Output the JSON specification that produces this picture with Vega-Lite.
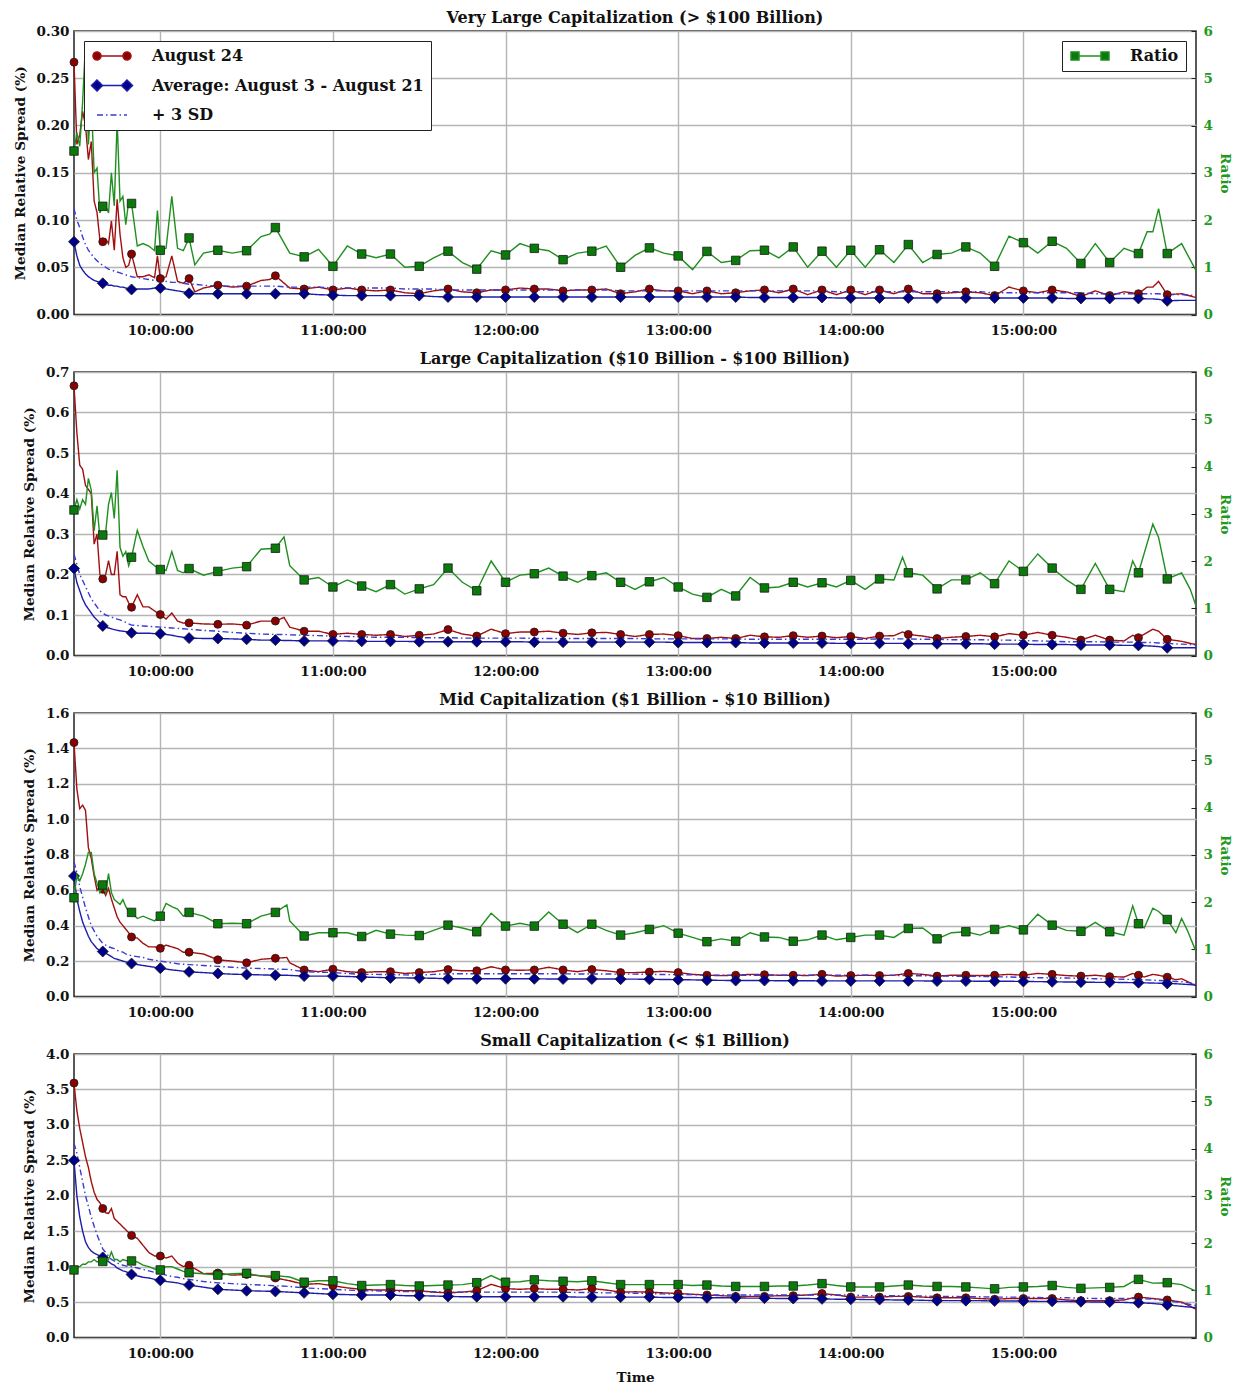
{
"$schema": "https://vega.github.io/schema/vega-lite/v6.json",
"background": "white",
"padding": {"left": 12, "top": 9, "right": 5, "bottom": 0},
"spacing": 12,
"config": {
 "font": "DejaVu Serif",
 "view": {"stroke": "#222", "strokeWidth": 1.5},
 "axis": {"labelFont": "DejaVu Serif", "labelFontWeight": "bold", "labelFontSize": 13.5, "labelColor": "#111", "titleFont": "DejaVu Serif", "titleFontWeight": "bold", "titleFontSize": 13.7, "titleColor": "#111", "gridColor": "#b5b5b5", "gridWidth": 1.4, "domain": false, "tickColor": "#222", "labelOverlap": false, "tickCount": 20},
 "title": {"font": "DejaVu Serif", "fontSize": 16, "fontWeight": "bold", "color": "#111", "frame": "group", "baseline": "alphabetic", "offset": -2},
 "legend": {"labelFont": "DejaVu Serif", "labelFontSize": 16, "labelFontWeight": "bold", "labelColor": "#111", "padding": 7, "strokeColor": "#222", "fillColor": "white", "cornerRadius": 0, "offset": 10, "symbolSize": 210, "symbolStrokeWidth": 1.5, "symbolOffset": 13, "labelOffset": 32, "rowPadding": 12.5, "labelLimit": 0}
},
"datasets": {"d": [
{"p":1,"t":0,"a":0.267,"m":0.077,"s":0.112,"r":3.46},
{"p":1,"t":1,"a":0.18,"m":0.062,"s":0.1,"r":3.85},
{"p":1,"t":2,"a":0.19,"m":0.052,"s":0.092,"r":3.56},
{"p":1,"t":3,"a":0.215,"m":0.047,"s":0.082,"r":4.5},
{"p":1,"t":4,"a":0.2,"m":0.043,"s":0.074,"r":5.75},
{"p":1,"t":5,"a":0.164,"m":0.04,"s":0.068,"r":3.6},
{"p":1,"t":6,"a":0.183,"m":0.038,"s":0.064,"r":4.58},
{"p":1,"t":7,"a":0.12,"m":0.036,"s":0.06,"r":3.0},
{"p":1,"t":8,"a":0.108,"m":0.035,"s":0.057,"r":3.1},
{"p":1,"t":9,"a":0.079,"m":0.034,"s":0.054,"r":2.15},
{"p":1,"t":10,"a":0.077,"m":0.033,"s":0.052,"r":2.29},
{"p":1,"t":11,"a":0.08,"m":0.032,"s":0.05,"r":2.3},
{"p":1,"t":12,"a":0.075,"m":0.031,"s":0.048,"r":2.15},
{"p":1,"t":13,"a":0.099,"m":0.031,"s":0.047,"r":3.0},
{"p":1,"t":14,"a":0.068,"m":0.03,"s":0.046,"r":2.3},
{"p":1,"t":15,"a":0.122,"m":0.03,"s":0.045,"r":4.1},
{"p":1,"t":16,"a":0.085,"m":0.029,"s":0.044,"r":2.4},
{"p":1,"t":17,"a":0.06,"m":0.029,"s":0.043,"r":2.5},
{"p":1,"t":18,"a":0.05,"m":0.028,"s":0.042,"r":1.9},
{"p":1,"t":19,"a":0.052,"m":0.027,"s":0.041,"r":2.4},
{"p":1,"t":20,"a":0.064,"m":0.0265,"s":0.04,"r":2.35},
{"p":1,"t":22,"a":0.04,"m":0.027,"s":0.039,"r":1.45},
{"p":1,"t":24,"a":0.04,"m":0.027,"s":0.038,"r":1.5},
{"p":1,"t":26,"a":0.042,"m":0.027,"s":0.037,"r":1.45},
{"p":1,"t":28,"a":0.039,"m":0.028,"s":0.036,"r":1.35},
{"p":1,"t":29,"a":0.062,"m":0.028,"s":0.036,"r":2.2},
{"p":1,"t":30,"a":0.038,"m":0.028,"s":0.036,"r":1.36},
{"p":1,"t":32,"a":0.04,"m":0.027,"s":0.035,"r":1.4},
{"p":1,"t":34,"a":0.062,"m":0.026,"s":0.034,"r":2.5},
{"p":1,"t":36,"a":0.035,"m":0.025,"s":0.034,"r":1.4},
{"p":1,"t":38,"a":0.033,"m":0.024,"s":0.033,"r":1.35},
{"p":1,"t":40,"a":0.038,"m":0.0225,"s":0.032,"r":1.62},
{"p":1,"t":42,"a":0.024,"m":0.022,"s":0.032,"r":1.05},
{"p":1,"t":45,"a":0.028,"m":0.022,"s":0.031,"r":1.3},
{"p":1,"t":50,"a":0.031,"m":0.022,"s":0.03,"r":1.36},
{"p":1,"t":55,"a":0.029,"m":0.022,"s":0.03,"r":1.3},
{"p":1,"t":60,"a":0.03,"m":0.022,"s":0.03,"r":1.35},
{"p":1,"t":65,"a":0.036,"m":0.022,"s":0.03,"r":1.65},
{"p":1,"t":68,"a":0.037,"m":0.022,"s":0.03,"r":1.7},
{"p":1,"t":70,"a":0.041,"m":0.022,"s":0.03,"r":1.84},
{"p":1,"t":75,"a":0.028,"m":0.022,"s":0.029,"r":1.3},
{"p":1,"t":80,"a":0.027,"m":0.022,"s":0.029,"r":1.22},
{"p":1,"t":85,"a":0.029,"m":0.021,"s":0.029,"r":1.38},
{"p":1,"t":90,"a":0.026,"m":0.0205,"s":0.028,"r":1.02},
{"p":1,"t":95,"a":0.028,"m":0.02,"s":0.028,"r":1.45},
{"p":1,"t":100,"a":0.026,"m":0.02,"s":0.028,"r":1.28},
{"p":1,"t":105,"a":0.025,"m":0.02,"s":0.028,"r":1.2},
{"p":1,"t":110,"a":0.026,"m":0.02,"s":0.028,"r":1.28},
{"p":1,"t":115,"a":0.023,"m":0.02,"s":0.027,"r":1.0},
{"p":1,"t":120,"a":0.022,"m":0.02,"s":0.027,"r":1.02},
{"p":1,"t":125,"a":0.025,"m":0.019,"s":0.027,"r":1.2},
{"p":1,"t":130,"a":0.027,"m":0.0185,"s":0.026,"r":1.34},
{"p":1,"t":135,"a":0.024,"m":0.0185,"s":0.026,"r":1.1},
{"p":1,"t":140,"a":0.023,"m":0.0185,"s":0.026,"r":0.96},
{"p":1,"t":145,"a":0.026,"m":0.0185,"s":0.026,"r":1.35},
{"p":1,"t":150,"a":0.026,"m":0.0185,"s":0.026,"r":1.26},
{"p":1,"t":155,"a":0.028,"m":0.0185,"s":0.026,"r":1.5},
{"p":1,"t":160,"a":0.027,"m":0.0185,"s":0.026,"r":1.4},
{"p":1,"t":165,"a":0.027,"m":0.0185,"s":0.026,"r":1.35},
{"p":1,"t":170,"a":0.025,"m":0.0185,"s":0.026,"r":1.16},
{"p":1,"t":175,"a":0.026,"m":0.0185,"s":0.026,"r":1.3},
{"p":1,"t":180,"a":0.026,"m":0.0185,"s":0.026,"r":1.34},
{"p":1,"t":185,"a":0.027,"m":0.0185,"s":0.026,"r":1.45},
{"p":1,"t":190,"a":0.022,"m":0.0185,"s":0.025,"r":1.0},
{"p":1,"t":195,"a":0.024,"m":0.0185,"s":0.025,"r":1.25},
{"p":1,"t":200,"a":0.027,"m":0.0185,"s":0.025,"r":1.41},
{"p":1,"t":205,"a":0.025,"m":0.0185,"s":0.025,"r":1.3},
{"p":1,"t":210,"a":0.025,"m":0.0185,"s":0.025,"r":1.24},
{"p":1,"t":215,"a":0.022,"m":0.0185,"s":0.025,"r":0.95},
{"p":1,"t":220,"a":0.025,"m":0.0185,"s":0.025,"r":1.335},
{"p":1,"t":225,"a":0.022,"m":0.0185,"s":0.025,"r":1.1},
{"p":1,"t":230,"a":0.023,"m":0.0185,"s":0.025,"r":1.145},
{"p":1,"t":235,"a":0.025,"m":0.018,"s":0.025,"r":1.35},
{"p":1,"t":240,"a":0.026,"m":0.018,"s":0.025,"r":1.36},
{"p":1,"t":245,"a":0.023,"m":0.018,"s":0.025,"r":1.2},
{"p":1,"t":250,"a":0.027,"m":0.018,"s":0.025,"r":1.43},
{"p":1,"t":255,"a":0.021,"m":0.018,"s":0.025,"r":1.0},
{"p":1,"t":260,"a":0.026,"m":0.018,"s":0.025,"r":1.34},
{"p":1,"t":265,"a":0.021,"m":0.0175,"s":0.024,"r":1.0},
{"p":1,"t":270,"a":0.026,"m":0.0175,"s":0.024,"r":1.36},
{"p":1,"t":275,"a":0.021,"m":0.0175,"s":0.024,"r":1.0},
{"p":1,"t":280,"a":0.026,"m":0.0175,"s":0.024,"r":1.37},
{"p":1,"t":285,"a":0.022,"m":0.0175,"s":0.024,"r":1.1},
{"p":1,"t":290,"a":0.027,"m":0.0175,"s":0.024,"r":1.48},
{"p":1,"t":295,"a":0.022,"m":0.0175,"s":0.024,"r":1.1},
{"p":1,"t":300,"a":0.022,"m":0.0175,"s":0.024,"r":1.27},
{"p":1,"t":305,"a":0.023,"m":0.0175,"s":0.024,"r":1.3},
{"p":1,"t":310,"a":0.024,"m":0.0175,"s":0.024,"r":1.43},
{"p":1,"t":315,"a":0.023,"m":0.0175,"s":0.024,"r":1.3},
{"p":1,"t":320,"a":0.02,"m":0.0175,"s":0.023,"r":1.02},
{"p":1,"t":325,"a":0.029,"m":0.0175,"s":0.023,"r":1.66},
{"p":1,"t":330,"a":0.025,"m":0.0175,"s":0.023,"r":1.52},
{"p":1,"t":335,"a":0.023,"m":0.0175,"s":0.023,"r":1.3},
{"p":1,"t":340,"a":0.026,"m":0.0175,"s":0.023,"r":1.55},
{"p":1,"t":345,"a":0.024,"m":0.017,"s":0.023,"r":1.4},
{"p":1,"t":350,"a":0.019,"m":0.017,"s":0.023,"r":1.08},
{"p":1,"t":355,"a":0.025,"m":0.017,"s":0.022,"r":1.5},
{"p":1,"t":360,"a":0.02,"m":0.017,"s":0.022,"r":1.1},
{"p":1,"t":365,"a":0.024,"m":0.017,"s":0.022,"r":1.4},
{"p":1,"t":370,"a":0.022,"m":0.017,"s":0.022,"r":1.29},
{"p":1,"t":373,"a":0.029,"m":0.0165,"s":0.022,"r":1.75},
{"p":1,"t":375,"a":0.029,"m":0.0165,"s":0.022,"r":1.75},
{"p":1,"t":377,"a":0.035,"m":0.016,"s":0.022,"r":2.24},
{"p":1,"t":380,"a":0.021,"m":0.0145,"s":0.021,"r":1.29},
{"p":1,"t":385,"a":0.022,"m":0.015,"s":0.021,"r":1.5},
{"p":1,"t":390,"a":0.018,"m":0.015,"s":0.02,"r":0.93},

{"p":2,"t":0,"a":0.666,"m":0.215,"s":0.25,"r":3.08},
{"p":2,"t":1,"a":0.55,"m":0.18,"s":0.225,"r":3.3},
{"p":2,"t":2,"a":0.47,"m":0.16,"s":0.2,"r":3.1},
{"p":2,"t":3,"a":0.46,"m":0.14,"s":0.185,"r":3.3},
{"p":2,"t":4,"a":0.42,"m":0.125,"s":0.17,"r":3.2},
{"p":2,"t":5,"a":0.41,"m":0.115,"s":0.155,"r":3.75},
{"p":2,"t":6,"a":0.4,"m":0.105,"s":0.14,"r":3.5},
{"p":2,"t":7,"a":0.275,"m":0.095,"s":0.13,"r":2.64},
{"p":2,"t":8,"a":0.3,"m":0.088,"s":0.12,"r":3.17},
{"p":2,"t":9,"a":0.2,"m":0.08,"s":0.11,"r":2.5},
{"p":2,"t":10,"a":0.189,"m":0.073,"s":0.105,"r":2.55},
{"p":2,"t":11,"a":0.2,"m":0.07,"s":0.1,"r":2.6},
{"p":2,"t":12,"a":0.234,"m":0.068,"s":0.098,"r":3.2},
{"p":2,"t":13,"a":0.2,"m":0.066,"s":0.095,"r":3.45},
{"p":2,"t":14,"a":0.2,"m":0.064,"s":0.092,"r":2.9},
{"p":2,"t":15,"a":0.257,"m":0.062,"s":0.09,"r":3.92},
{"p":2,"t":16,"a":0.15,"m":0.061,"s":0.088,"r":2.29},
{"p":2,"t":17,"a":0.145,"m":0.06,"s":0.085,"r":2.1},
{"p":2,"t":18,"a":0.145,"m":0.059,"s":0.082,"r":2.2},
{"p":2,"t":19,"a":0.13,"m":0.058,"s":0.078,"r":1.9},
{"p":2,"t":20,"a":0.119,"m":0.056,"s":0.075,"r":2.08},
{"p":2,"t":22,"a":0.15,"m":0.055,"s":0.074,"r":2.65},
{"p":2,"t":24,"a":0.12,"m":0.055,"s":0.073,"r":2.3},
{"p":2,"t":26,"a":0.12,"m":0.055,"s":0.072,"r":2.0},
{"p":2,"t":28,"a":0.11,"m":0.054,"s":0.071,"r":1.9},
{"p":2,"t":30,"a":0.101,"m":0.054,"s":0.07,"r":1.82},
{"p":2,"t":32,"a":0.09,"m":0.052,"s":0.069,"r":1.8},
{"p":2,"t":34,"a":0.105,"m":0.05,"s":0.068,"r":2.2},
{"p":2,"t":36,"a":0.085,"m":0.047,"s":0.067,"r":1.8},
{"p":2,"t":38,"a":0.08,"m":0.045,"s":0.066,"r":1.75},
{"p":2,"t":40,"a":0.0805,"m":0.043,"s":0.065,"r":1.84},
{"p":2,"t":45,"a":0.078,"m":0.042,"s":0.062,"r":1.7},
{"p":2,"t":50,"a":0.077,"m":0.042,"s":0.06,"r":1.78},
{"p":2,"t":55,"a":0.078,"m":0.041,"s":0.057,"r":1.85},
{"p":2,"t":60,"a":0.075,"m":0.04,"s":0.055,"r":1.88},
{"p":2,"t":65,"a":0.085,"m":0.038,"s":0.053,"r":2.25},
{"p":2,"t":70,"a":0.085,"m":0.038,"s":0.052,"r":2.27},
{"p":2,"t":73,"a":0.094,"m":0.037,"s":0.052,"r":2.51},
{"p":2,"t":75,"a":0.07,"m":0.037,"s":0.051,"r":1.9},
{"p":2,"t":80,"a":0.06,"m":0.036,"s":0.05,"r":1.6},
{"p":2,"t":85,"a":0.06,"m":0.036,"s":0.049,"r":1.65},
{"p":2,"t":90,"a":0.052,"m":0.036,"s":0.048,"r":1.45},
{"p":2,"t":95,"a":0.055,"m":0.036,"s":0.047,"r":1.6},
{"p":2,"t":100,"a":0.052,"m":0.035,"s":0.046,"r":1.47},
{"p":2,"t":105,"a":0.05,"m":0.035,"s":0.045,"r":1.35},
{"p":2,"t":110,"a":0.052,"m":0.035,"s":0.045,"r":1.5},
{"p":2,"t":115,"a":0.047,"m":0.035,"s":0.045,"r":1.3},
{"p":2,"t":120,"a":0.05,"m":0.034,"s":0.044,"r":1.41},
{"p":2,"t":125,"a":0.053,"m":0.034,"s":0.044,"r":1.5},
{"p":2,"t":130,"a":0.064,"m":0.034,"s":0.044,"r":1.85},
{"p":2,"t":135,"a":0.053,"m":0.034,"s":0.043,"r":1.55},
{"p":2,"t":140,"a":0.048,"m":0.034,"s":0.043,"r":1.37},
{"p":2,"t":145,"a":0.065,"m":0.034,"s":0.043,"r":2.0},
{"p":2,"t":150,"a":0.054,"m":0.034,"s":0.043,"r":1.55},
{"p":2,"t":155,"a":0.058,"m":0.034,"s":0.043,"r":1.7},
{"p":2,"t":160,"a":0.058,"m":0.033,"s":0.042,"r":1.73},
{"p":2,"t":165,"a":0.06,"m":0.033,"s":0.042,"r":1.85},
{"p":2,"t":170,"a":0.055,"m":0.033,"s":0.042,"r":1.68},
{"p":2,"t":175,"a":0.052,"m":0.033,"s":0.042,"r":1.55},
{"p":2,"t":180,"a":0.056,"m":0.033,"s":0.042,"r":1.69},
{"p":2,"t":185,"a":0.057,"m":0.033,"s":0.042,"r":1.75},
{"p":2,"t":190,"a":0.052,"m":0.033,"s":0.042,"r":1.55},
{"p":2,"t":195,"a":0.047,"m":0.033,"s":0.042,"r":1.4},
{"p":2,"t":200,"a":0.052,"m":0.033,"s":0.041,"r":1.56},
{"p":2,"t":205,"a":0.053,"m":0.033,"s":0.041,"r":1.65},
{"p":2,"t":210,"a":0.049,"m":0.032,"s":0.041,"r":1.45},
{"p":2,"t":215,"a":0.042,"m":0.032,"s":0.041,"r":1.3},
{"p":2,"t":220,"a":0.042,"m":0.032,"s":0.041,"r":1.23},
{"p":2,"t":225,"a":0.045,"m":0.032,"s":0.041,"r":1.4},
{"p":2,"t":230,"a":0.042,"m":0.032,"s":0.041,"r":1.26},
{"p":2,"t":235,"a":0.05,"m":0.031,"s":0.04,"r":1.65},
{"p":2,"t":240,"a":0.046,"m":0.031,"s":0.04,"r":1.43},
{"p":2,"t":245,"a":0.045,"m":0.031,"s":0.04,"r":1.45},
{"p":2,"t":250,"a":0.049,"m":0.031,"s":0.04,"r":1.55},
{"p":2,"t":255,"a":0.045,"m":0.031,"s":0.04,"r":1.45},
{"p":2,"t":260,"a":0.048,"m":0.031,"s":0.04,"r":1.54},
{"p":2,"t":265,"a":0.044,"m":0.03,"s":0.04,"r":1.45},
{"p":2,"t":270,"a":0.047,"m":0.03,"s":0.04,"r":1.59},
{"p":2,"t":275,"a":0.042,"m":0.03,"s":0.04,"r":1.4},
{"p":2,"t":280,"a":0.048,"m":0.03,"s":0.041,"r":1.62},
{"p":2,"t":285,"a":0.049,"m":0.03,"s":0.041,"r":1.6},
{"p":2,"t":288,"a":0.058,"m":0.03,"s":0.041,"r":2.08},
{"p":2,"t":290,"a":0.052,"m":0.029,"s":0.041,"r":1.75},
{"p":2,"t":295,"a":0.048,"m":0.029,"s":0.04,"r":1.7},
{"p":2,"t":300,"a":0.042,"m":0.029,"s":0.04,"r":1.41},
{"p":2,"t":305,"a":0.045,"m":0.029,"s":0.039,"r":1.6},
{"p":2,"t":310,"a":0.047,"m":0.029,"s":0.039,"r":1.6},
{"p":2,"t":315,"a":0.05,"m":0.029,"s":0.039,"r":1.75},
{"p":2,"t":320,"a":0.046,"m":0.028,"s":0.038,"r":1.52},
{"p":2,"t":325,"a":0.054,"m":0.028,"s":0.038,"r":2.0},
{"p":2,"t":330,"a":0.05,"m":0.028,"s":0.037,"r":1.78},
{"p":2,"t":335,"a":0.057,"m":0.027,"s":0.036,"r":2.15},
{"p":2,"t":340,"a":0.05,"m":0.027,"s":0.035,"r":1.85},
{"p":2,"t":345,"a":0.045,"m":0.027,"s":0.034,"r":1.6},
{"p":2,"t":350,"a":0.038,"m":0.026,"s":0.034,"r":1.4},
{"p":2,"t":355,"a":0.05,"m":0.026,"s":0.034,"r":1.95},
{"p":2,"t":360,"a":0.038,"m":0.026,"s":0.033,"r":1.4},
{"p":2,"t":365,"a":0.036,"m":0.025,"s":0.033,"r":1.35},
{"p":2,"t":368,"a":0.05,"m":0.025,"s":0.033,"r":2.0},
{"p":2,"t":370,"a":0.044,"m":0.025,"s":0.032,"r":1.75},
{"p":2,"t":375,"a":0.065,"m":0.023,"s":0.032,"r":2.78},
{"p":2,"t":377,"a":0.06,"m":0.022,"s":0.031,"r":2.5},
{"p":2,"t":380,"a":0.04,"m":0.019,"s":0.03,"r":1.62},
{"p":2,"t":385,"a":0.035,"m":0.019,"s":0.028,"r":1.75},
{"p":2,"t":388,"a":0.03,"m":0.019,"s":0.027,"r":1.4},
{"p":2,"t":390,"a":0.027,"m":0.019,"s":0.026,"r":1.05},

{"p":3,"t":0,"a":1.433,"m":0.68,"s":0.76,"r":2.09},
{"p":3,"t":1,"a":1.17,"m":0.55,"s":0.7,"r":2.57},
{"p":3,"t":2,"a":1.06,"m":0.48,"s":0.62,"r":2.45},
{"p":3,"t":3,"a":1.08,"m":0.42,"s":0.56,"r":2.6},
{"p":3,"t":4,"a":1.05,"m":0.38,"s":0.5,"r":2.8},
{"p":3,"t":5,"a":0.84,"m":0.34,"s":0.45,"r":3.05},
{"p":3,"t":6,"a":0.78,"m":0.31,"s":0.4,"r":3.05},
{"p":3,"t":7,"a":0.68,"m":0.29,"s":0.37,"r":2.6},
{"p":3,"t":8,"a":0.6,"m":0.27,"s":0.34,"r":2.4},
{"p":3,"t":9,"a":0.62,"m":0.26,"s":0.32,"r":2.2},
{"p":3,"t":10,"a":0.605,"m":0.254,"s":0.3,"r":2.36},
{"p":3,"t":11,"a":0.57,"m":0.245,"s":0.29,"r":2.2},
{"p":3,"t":12,"a":0.61,"m":0.235,"s":0.28,"r":2.6},
{"p":3,"t":13,"a":0.55,"m":0.225,"s":0.275,"r":2.2},
{"p":3,"t":14,"a":0.5,"m":0.215,"s":0.27,"r":2.05},
{"p":3,"t":15,"a":0.45,"m":0.21,"s":0.26,"r":2.0},
{"p":3,"t":16,"a":0.42,"m":0.205,"s":0.255,"r":1.95},
{"p":3,"t":17,"a":0.4,"m":0.2,"s":0.25,"r":2.05},
{"p":3,"t":18,"a":0.38,"m":0.195,"s":0.24,"r":1.9},
{"p":3,"t":19,"a":0.36,"m":0.19,"s":0.235,"r":1.8},
{"p":3,"t":20,"a":0.336,"m":0.186,"s":0.23,"r":1.78},
{"p":3,"t":22,"a":0.33,"m":0.18,"s":0.225,"r":1.65},
{"p":3,"t":24,"a":0.3,"m":0.175,"s":0.22,"r":1.7},
{"p":3,"t":26,"a":0.28,"m":0.17,"s":0.21,"r":1.65},
{"p":3,"t":28,"a":0.28,"m":0.165,"s":0.205,"r":1.6},
{"p":3,"t":30,"a":0.272,"m":0.16,"s":0.2,"r":1.7},
{"p":3,"t":32,"a":0.29,"m":0.155,"s":0.195,"r":1.97},
{"p":3,"t":34,"a":0.28,"m":0.15,"s":0.19,"r":1.9},
{"p":3,"t":36,"a":0.27,"m":0.147,"s":0.185,"r":1.85},
{"p":3,"t":38,"a":0.25,"m":0.143,"s":0.182,"r":1.7},
{"p":3,"t":40,"a":0.25,"m":0.139,"s":0.18,"r":1.78},
{"p":3,"t":45,"a":0.24,"m":0.135,"s":0.175,"r":1.7},
{"p":3,"t":50,"a":0.207,"m":0.13,"s":0.17,"r":1.54},
{"p":3,"t":55,"a":0.2,"m":0.126,"s":0.165,"r":1.55},
{"p":3,"t":60,"a":0.19,"m":0.124,"s":0.16,"r":1.54},
{"p":3,"t":65,"a":0.21,"m":0.122,"s":0.158,"r":1.7},
{"p":3,"t":70,"a":0.216,"m":0.12,"s":0.155,"r":1.78},
{"p":3,"t":74,"a":0.22,"m":0.12,"s":0.153,"r":1.94},
{"p":3,"t":75,"a":0.19,"m":0.119,"s":0.152,"r":1.6},
{"p":3,"t":80,"a":0.15,"m":0.115,"s":0.14,"r":1.28},
{"p":3,"t":85,"a":0.14,"m":0.115,"s":0.138,"r":1.35},
{"p":3,"t":90,"a":0.154,"m":0.115,"s":0.135,"r":1.35},
{"p":3,"t":95,"a":0.14,"m":0.113,"s":0.13,"r":1.35},
{"p":3,"t":100,"a":0.135,"m":0.11,"s":0.125,"r":1.27},
{"p":3,"t":105,"a":0.14,"m":0.108,"s":0.125,"r":1.4},
{"p":3,"t":110,"a":0.14,"m":0.105,"s":0.123,"r":1.32},
{"p":3,"t":115,"a":0.13,"m":0.105,"s":0.122,"r":1.3},
{"p":3,"t":120,"a":0.135,"m":0.104,"s":0.12,"r":1.29},
{"p":3,"t":125,"a":0.14,"m":0.103,"s":0.125,"r":1.4},
{"p":3,"t":130,"a":0.152,"m":0.1,"s":0.128,"r":1.51},
{"p":3,"t":135,"a":0.145,"m":0.1,"s":0.128,"r":1.45},
{"p":3,"t":140,"a":0.145,"m":0.1,"s":0.128,"r":1.37},
{"p":3,"t":145,"a":0.168,"m":0.1,"s":0.128,"r":1.76},
{"p":3,"t":150,"a":0.15,"m":0.1,"s":0.128,"r":1.49},
{"p":3,"t":155,"a":0.148,"m":0.1,"s":0.128,"r":1.55},
{"p":3,"t":160,"a":0.15,"m":0.1,"s":0.128,"r":1.49},
{"p":3,"t":165,"a":0.165,"m":0.099,"s":0.128,"r":1.79},
{"p":3,"t":170,"a":0.15,"m":0.099,"s":0.128,"r":1.53},
{"p":3,"t":175,"a":0.14,"m":0.099,"s":0.127,"r":1.35},
{"p":3,"t":180,"a":0.152,"m":0.099,"s":0.127,"r":1.53},
{"p":3,"t":185,"a":0.145,"m":0.099,"s":0.127,"r":1.4},
{"p":3,"t":190,"a":0.135,"m":0.098,"s":0.126,"r":1.3},
{"p":3,"t":195,"a":0.135,"m":0.098,"s":0.126,"r":1.35},
{"p":3,"t":200,"a":0.138,"m":0.097,"s":0.125,"r":1.42},
{"p":3,"t":205,"a":0.142,"m":0.096,"s":0.124,"r":1.5},
{"p":3,"t":210,"a":0.135,"m":0.095,"s":0.123,"r":1.34},
{"p":3,"t":215,"a":0.125,"m":0.094,"s":0.122,"r":1.25},
{"p":3,"t":220,"a":0.12,"m":0.092,"s":0.121,"r":1.16},
{"p":3,"t":225,"a":0.118,"m":0.091,"s":0.12,"r":1.22},
{"p":3,"t":230,"a":0.12,"m":0.09,"s":0.12,"r":1.17},
{"p":3,"t":235,"a":0.125,"m":0.09,"s":0.12,"r":1.35},
{"p":3,"t":240,"a":0.123,"m":0.09,"s":0.12,"r":1.26},
{"p":3,"t":245,"a":0.12,"m":0.089,"s":0.12,"r":1.25},
{"p":3,"t":250,"a":0.12,"m":0.089,"s":0.12,"r":1.17},
{"p":3,"t":255,"a":0.118,"m":0.089,"s":0.12,"r":1.2},
{"p":3,"t":260,"a":0.125,"m":0.088,"s":0.12,"r":1.3},
{"p":3,"t":265,"a":0.115,"m":0.088,"s":0.12,"r":1.2},
{"p":3,"t":270,"a":0.118,"m":0.088,"s":0.12,"r":1.25},
{"p":3,"t":275,"a":0.12,"m":0.088,"s":0.12,"r":1.3},
{"p":3,"t":280,"a":0.118,"m":0.088,"s":0.119,"r":1.3},
{"p":3,"t":285,"a":0.12,"m":0.088,"s":0.119,"r":1.25},
{"p":3,"t":290,"a":0.13,"m":0.088,"s":0.118,"r":1.44},
{"p":3,"t":295,"a":0.125,"m":0.088,"s":0.117,"r":1.45},
{"p":3,"t":300,"a":0.115,"m":0.087,"s":0.116,"r":1.22},
{"p":3,"t":305,"a":0.12,"m":0.087,"s":0.115,"r":1.35},
{"p":3,"t":310,"a":0.12,"m":0.087,"s":0.114,"r":1.37},
{"p":3,"t":315,"a":0.118,"m":0.086,"s":0.113,"r":1.3},
{"p":3,"t":320,"a":0.12,"m":0.086,"s":0.112,"r":1.42},
{"p":3,"t":325,"a":0.125,"m":0.086,"s":0.11,"r":1.5},
{"p":3,"t":330,"a":0.12,"m":0.085,"s":0.108,"r":1.41},
{"p":3,"t":335,"a":0.13,"m":0.084,"s":0.106,"r":1.74},
{"p":3,"t":340,"a":0.125,"m":0.083,"s":0.105,"r":1.51},
{"p":3,"t":345,"a":0.118,"m":0.082,"s":0.104,"r":1.4},
{"p":3,"t":350,"a":0.115,"m":0.081,"s":0.103,"r":1.38},
{"p":3,"t":355,"a":0.12,"m":0.08,"s":0.1,"r":1.57},
{"p":3,"t":360,"a":0.112,"m":0.08,"s":0.099,"r":1.37},
{"p":3,"t":365,"a":0.11,"m":0.079,"s":0.097,"r":1.3},
{"p":3,"t":368,"a":0.13,"m":0.078,"s":0.096,"r":1.92},
{"p":3,"t":370,"a":0.12,"m":0.078,"s":0.095,"r":1.54},
{"p":3,"t":372,"a":0.11,"m":0.077,"s":0.094,"r":1.45},
{"p":3,"t":375,"a":0.125,"m":0.076,"s":0.092,"r":1.87},
{"p":3,"t":377,"a":0.12,"m":0.075,"s":0.09,"r":1.8},
{"p":3,"t":380,"a":0.109,"m":0.074,"s":0.088,"r":1.63},
{"p":3,"t":383,"a":0.095,"m":0.072,"s":0.085,"r":1.35},
{"p":3,"t":385,"a":0.1,"m":0.07,"s":0.083,"r":1.65},
{"p":3,"t":387,"a":0.085,"m":0.068,"s":0.08,"r":1.4},
{"p":3,"t":390,"a":0.06,"m":0.065,"s":0.07,"r":0.95},

{"p":4,"t":0,"a":3.59,"m":2.5,"s":2.74,"r":1.43},
{"p":4,"t":1,"a":3.2,"m":2.0,"s":2.6,"r":1.5},
{"p":4,"t":2,"a":2.95,"m":1.7,"s":2.4,"r":1.5},
{"p":4,"t":3,"a":2.75,"m":1.5,"s":2.2,"r":1.55},
{"p":4,"t":4,"a":2.55,"m":1.35,"s":2.0,"r":1.55},
{"p":4,"t":5,"a":2.4,"m":1.27,"s":1.85,"r":1.6},
{"p":4,"t":6,"a":2.2,"m":1.22,"s":1.7,"r":1.6},
{"p":4,"t":7,"a":2.05,"m":1.19,"s":1.57,"r":1.65},
{"p":4,"t":8,"a":1.95,"m":1.17,"s":1.45,"r":1.6},
{"p":4,"t":9,"a":1.9,"m":1.15,"s":1.35,"r":1.62},
{"p":4,"t":10,"a":1.82,"m":1.13,"s":1.25,"r":1.61},
{"p":4,"t":11,"a":1.76,"m":1.1,"s":1.2,"r":1.58},
{"p":4,"t":12,"a":1.75,"m":1.07,"s":1.15,"r":1.65},
{"p":4,"t":13,"a":1.82,"m":1.04,"s":1.1,"r":1.81},
{"p":4,"t":14,"a":1.68,"m":1.02,"s":1.08,"r":1.65},
{"p":4,"t":15,"a":1.64,"m":0.98,"s":1.05,"r":1.65},
{"p":4,"t":16,"a":1.6,"m":0.96,"s":1.03,"r":1.6},
{"p":4,"t":17,"a":1.56,"m":0.94,"s":1.02,"r":1.65},
{"p":4,"t":18,"a":1.52,"m":0.93,"s":1.01,"r":1.63},
{"p":4,"t":19,"a":1.48,"m":0.91,"s":1.0,"r":1.62},
{"p":4,"t":20,"a":1.44,"m":0.89,"s":1.0,"r":1.62},
{"p":4,"t":22,"a":1.4,"m":0.87,"s":0.98,"r":1.6},
{"p":4,"t":24,"a":1.3,"m":0.85,"s":0.96,"r":1.53},
{"p":4,"t":26,"a":1.2,"m":0.84,"s":0.94,"r":1.5},
{"p":4,"t":28,"a":1.15,"m":0.82,"s":0.92,"r":1.45},
{"p":4,"t":30,"a":1.15,"m":0.806,"s":0.9,"r":1.43},
{"p":4,"t":32,"a":1.12,"m":0.79,"s":0.88,"r":1.5},
{"p":4,"t":34,"a":1.15,"m":0.78,"s":0.86,"r":1.5},
{"p":4,"t":36,"a":1.05,"m":0.77,"s":0.85,"r":1.45},
{"p":4,"t":38,"a":1.0,"m":0.75,"s":0.83,"r":1.4},
{"p":4,"t":40,"a":1.02,"m":0.74,"s":0.82,"r":1.37},
{"p":4,"t":45,"a":0.9,"m":0.71,"s":0.79,"r":1.35},
{"p":4,"t":50,"a":0.91,"m":0.68,"s":0.77,"r":1.32},
{"p":4,"t":55,"a":0.88,"m":0.67,"s":0.76,"r":1.35},
{"p":4,"t":60,"a":0.89,"m":0.66,"s":0.75,"r":1.36},
{"p":4,"t":65,"a":0.87,"m":0.655,"s":0.74,"r":1.3},
{"p":4,"t":70,"a":0.84,"m":0.65,"s":0.73,"r":1.31},
{"p":4,"t":75,"a":0.8,"m":0.64,"s":0.72,"r":1.28},
{"p":4,"t":80,"a":0.75,"m":0.63,"s":0.7,"r":1.17},
{"p":4,"t":85,"a":0.76,"m":0.62,"s":0.69,"r":1.2},
{"p":4,"t":90,"a":0.73,"m":0.61,"s":0.68,"r":1.2},
{"p":4,"t":95,"a":0.7,"m":0.605,"s":0.67,"r":1.14},
{"p":4,"t":100,"a":0.68,"m":0.6,"s":0.66,"r":1.1},
{"p":4,"t":105,"a":0.67,"m":0.6,"s":0.66,"r":1.11},
{"p":4,"t":110,"a":0.67,"m":0.6,"s":0.65,"r":1.12},
{"p":4,"t":115,"a":0.66,"m":0.59,"s":0.65,"r":1.1},
{"p":4,"t":120,"a":0.66,"m":0.59,"s":0.65,"r":1.09},
{"p":4,"t":125,"a":0.64,"m":0.585,"s":0.645,"r":1.1},
{"p":4,"t":130,"a":0.63,"m":0.58,"s":0.64,"r":1.11},
{"p":4,"t":135,"a":0.64,"m":0.575,"s":0.64,"r":1.12},
{"p":4,"t":140,"a":0.66,"m":0.575,"s":0.64,"r":1.16},
{"p":4,"t":145,"a":0.75,"m":0.575,"s":0.64,"r":1.31},
{"p":4,"t":150,"a":0.69,"m":0.575,"s":0.64,"r":1.17},
{"p":4,"t":155,"a":0.68,"m":0.575,"s":0.64,"r":1.18},
{"p":4,"t":160,"a":0.69,"m":0.575,"s":0.64,"r":1.22},
{"p":4,"t":165,"a":0.68,"m":0.575,"s":0.64,"r":1.2},
{"p":4,"t":170,"a":0.68,"m":0.575,"s":0.64,"r":1.19},
{"p":4,"t":175,"a":0.67,"m":0.57,"s":0.635,"r":1.18},
{"p":4,"t":180,"a":0.69,"m":0.57,"s":0.635,"r":1.2},
{"p":4,"t":185,"a":0.67,"m":0.57,"s":0.63,"r":1.16},
{"p":4,"t":190,"a":0.64,"m":0.57,"s":0.63,"r":1.12},
{"p":4,"t":195,"a":0.645,"m":0.57,"s":0.625,"r":1.12},
{"p":4,"t":200,"a":0.64,"m":0.57,"s":0.62,"r":1.12},
{"p":4,"t":205,"a":0.63,"m":0.565,"s":0.615,"r":1.12},
{"p":4,"t":210,"a":0.62,"m":0.565,"s":0.61,"r":1.12},
{"p":4,"t":215,"a":0.61,"m":0.565,"s":0.605,"r":1.1},
{"p":4,"t":220,"a":0.6,"m":0.56,"s":0.6,"r":1.11},
{"p":4,"t":225,"a":0.59,"m":0.56,"s":0.6,"r":1.09},
{"p":4,"t":230,"a":0.58,"m":0.56,"s":0.6,"r":1.08},
{"p":4,"t":235,"a":0.58,"m":0.555,"s":0.6,"r":1.08},
{"p":4,"t":240,"a":0.58,"m":0.555,"s":0.6,"r":1.08},
{"p":4,"t":245,"a":0.59,"m":0.55,"s":0.6,"r":1.09},
{"p":4,"t":250,"a":0.59,"m":0.55,"s":0.6,"r":1.09},
{"p":4,"t":255,"a":0.6,"m":0.55,"s":0.6,"r":1.11},
{"p":4,"t":260,"a":0.62,"m":0.545,"s":0.6,"r":1.14},
{"p":4,"t":265,"a":0.6,"m":0.54,"s":0.6,"r":1.1},
{"p":4,"t":270,"a":0.57,"m":0.54,"s":0.6,"r":1.07},
{"p":4,"t":275,"a":0.57,"m":0.535,"s":0.59,"r":1.07},
{"p":4,"t":280,"a":0.57,"m":0.535,"s":0.59,"r":1.07},
{"p":4,"t":285,"a":0.58,"m":0.53,"s":0.59,"r":1.09},
{"p":4,"t":290,"a":0.58,"m":0.53,"s":0.59,"r":1.11},
{"p":4,"t":295,"a":0.57,"m":0.525,"s":0.585,"r":1.09},
{"p":4,"t":300,"a":0.56,"m":0.52,"s":0.58,"r":1.08},
{"p":4,"t":305,"a":0.56,"m":0.52,"s":0.58,"r":1.08},
{"p":4,"t":310,"a":0.56,"m":0.52,"s":0.575,"r":1.07},
{"p":4,"t":315,"a":0.55,"m":0.52,"s":0.575,"r":1.05},
{"p":4,"t":320,"a":0.54,"m":0.515,"s":0.57,"r":1.03},
{"p":4,"t":325,"a":0.55,"m":0.515,"s":0.57,"r":1.06},
{"p":4,"t":330,"a":0.55,"m":0.515,"s":0.57,"r":1.07},
{"p":4,"t":335,"a":0.55,"m":0.51,"s":0.565,"r":1.08},
{"p":4,"t":340,"a":0.55,"m":0.51,"s":0.56,"r":1.1},
{"p":4,"t":345,"a":0.53,"m":0.51,"s":0.56,"r":1.06},
{"p":4,"t":350,"a":0.52,"m":0.505,"s":0.555,"r":1.04},
{"p":4,"t":355,"a":0.52,"m":0.5,"s":0.55,"r":1.05},
{"p":4,"t":360,"a":0.52,"m":0.5,"s":0.55,"r":1.06},
{"p":4,"t":365,"a":0.53,"m":0.495,"s":0.55,"r":1.08},
{"p":4,"t":368,"a":0.56,"m":0.49,"s":0.55,"r":1.18},
{"p":4,"t":370,"a":0.57,"m":0.49,"s":0.55,"r":1.23},
{"p":4,"t":375,"a":0.55,"m":0.48,"s":0.54,"r":1.15},
{"p":4,"t":380,"a":0.53,"m":0.46,"s":0.52,"r":1.16},
{"p":4,"t":385,"a":0.5,"m":0.44,"s":0.49,"r":1.12},
{"p":4,"t":390,"a":0.4,"m":0.42,"s":0.45,"r":0.98}
]},
"data": {"name": "d"},
"vconcat": [
 {
  "title": "Very Large Capitalization (> $100 Billion)",
  "width": 1122, "height": 283.5,
  "transform": [{"filter": "datum.p == 1"}],
  "layer": [
   {"layer": [
    {"transform": [{"fold": ["a","m","s"], "as": ["k","v"]}],
     "mark": {"type": "line", "strokeWidth": 1.4},
     "encoding": {
      "x": {"field": "t", "type": "quantitative", "scale": {"domain": [0,390], "nice": false, "zero": false},
            "axis": {"values": [30,90,150,210,270,330], "labelExpr": "floor(datum.value/60)+10 + ':00:00'", "grid": true, "ticks": false, "labelPadding": 9, "labelOverlap": false, "tickCount": 20, "title": null}},
      "y": {"field": "v", "type": "quantitative", "scale": {"domain": [0,0.3], "nice": false},
            "axis": {"values": [0,0.05,0.1,0.15,0.2,0.25,0.3], "format": ".2f", "grid": true, "ticks": false, "labelPadding": 5, "labelOverlap": false, "tickCount": 20, "title": "Median Relative Spread (%)", "titlePadding": 9}},
      "color": {"field": "k", "type": "nominal", "scale": {"domain": ["a","m","s"], "range": ["#a01010","#1c1cae","#3a3ad6"]},
        "legend": {"orient": "top-left", "title": null,
          "labelExpr": "datum.label === 'a' ? 'August 24' : datum.label === 'm' ? 'Average: August 3 - August 21' : '+ 3 SD'",
          "encode": {"symbols": {"update": {
            "shape": {"signal": "datum.value === 'a' ? 'M-1.52,0H1.52M-1.52,0A0.55,0.55,0,1,1,-2.62,0A0.55,0.55,0,1,1,-1.52,0M2.62,0A0.55,0.55,0,1,1,1.52,0A0.55,0.55,0,1,1,2.62,0' : datum.value === 'm' ? 'M-1.31,0H1.31M-2.07,-0.76L-1.31,0L-2.07,0.76L-2.83,0ZM2.07,-0.76L2.83,0L2.07,0.76L1.31,0Z' : 'M-2.07,0H2.07'"},
            "fill": {"signal": "datum.value === 'a' ? '#8b0000' : datum.value === 'm' ? '#00008b' : 'transparent'"},
            "stroke": {"signal": "datum.value === 'a' ? '#a01010' : datum.value === 'm' ? '#1c1cae' : '#3a3ad6'"},
            "strokeDash": {"signal": "datum.value === 's' ? [6,3,1.5,3] : [1,0]"},
            "size": {"value": 210},
            "strokeWidth": {"value": 1.5},
            "opacity": {"value": 1}
          }}}}},
      "strokeDash": {"field": "k", "type": "nominal", "scale": {"domain": ["a","m","s"], "range": [[1,0],[1,0],[6,3,1.5,3]]}, "legend": null}
     }},
    {"transform": [{"filter": "datum.t % 10 == 0 && datum.t <= 380"}, {"fold": ["a","m"], "as": ["k","v"]}],
     "mark": {"type": "point", "filled": true, "stroke": "#1a1a1a", "strokeWidth": 0.8, "opacity": 1},
     "encoding": {
      "x": {"field": "t", "type": "quantitative"},
      "y": {"field": "v", "type": "quantitative"},
      "fill": {"field": "k", "type": "nominal", "scale": {"domain": ["a","m"], "range": ["#8b0000","#00008b"]}, "legend": null},
      "shape": {"field": "k", "type": "nominal", "scale": {"domain": ["a","m"], "range": ["circle","diamond"]}, "legend": null},
      "size": {"field": "k", "type": "nominal", "scale": {"domain": ["a","m"], "range": [64,121]}, "legend": null}
     }}
   ]},
   {"layer": [
    {"mark": {"type": "line", "strokeWidth": 1.4},
     "encoding": {
      "x": {"field": "t", "type": "quantitative"},
      "y": {"field": "r", "type": "quantitative", "scale": {"domain": [0,6], "nice": false},
            "axis": {"orient": "right", "values": [0,1,2,3,4,5,6], "format": "d", "grid": false, "tickSize": -5, "labelPadding": 12, "labelOverlap": false, "tickCount": 20, "labelColor": "#1f9a1f", "title": "Ratio", "titleColor": "#1f9a1f", "titleFontSize": 13.5, "titlePadding": 5}},
      "color": {"datum": "Ratio", "type": "nominal", "scale": {"range": ["#1f8f1f"]},
        "legend": {"orient": "top-right", "title": null,
          "encode": {"symbols": {"update": {
            "shape": {"value": "M-1.52,0H1.52M-2.62,-0.55H-1.52V0.55H-2.62ZM1.52,-0.55H2.62V0.55H1.52Z"},
            "fill": {"value": "#0a7a0a"},
            "stroke": {"value": "#1f8f1f"},
            "size": {"value": 210},
            "strokeWidth": {"value": 1.5},
            "opacity": {"value": 1}
          }}}}}
     }},
    {"transform": [{"filter": "datum.t % 10 == 0 && datum.t <= 380"}],
     "mark": {"type": "point", "shape": "square", "filled": true, "fill": "#0a7a0a", "stroke": "#1a1a1a", "strokeWidth": 0.8, "size": 72, "opacity": 1},
     "encoding": {
      "x": {"field": "t", "type": "quantitative"},
      "y": {"field": "r", "type": "quantitative"}
     }}
   ]}
  ],
  "resolve": {"scale": {"y": "independent", "color": "independent"}}
 },
 {
  "title": "Large Capitalization ($10 Billion - $100 Billion)",
  "width": 1122, "height": 283.5,
  "transform": [{"filter": "datum.p == 2"}],
  "layer": [
   {"layer": [
    {"transform": [{"fold": ["a","m","s"], "as": ["k","v"]}],
     "mark": {"type": "line", "strokeWidth": 1.4},
     "encoding": {
      "x": {"field": "t", "type": "quantitative", "scale": {"domain": [0,390], "nice": false, "zero": false},
            "axis": {"values": [30,90,150,210,270,330], "labelExpr": "floor(datum.value/60)+10 + ':00:00'", "grid": true, "ticks": false, "labelPadding": 9, "labelOverlap": false, "tickCount": 20, "title": null}},
      "y": {"field": "v", "type": "quantitative", "scale": {"domain": [0,0.7], "nice": false},
            "axis": {"values": [0,0.1,0.2,0.3,0.4,0.5,0.6,0.7], "format": ".1f", "grid": true, "ticks": false, "labelPadding": 5, "labelOverlap": false, "tickCount": 20, "title": "Median Relative Spread (%)", "titlePadding": 9}},
      "color": {"field": "k", "type": "nominal", "scale": {"domain": ["a","m","s"], "range": ["#a01010","#1c1cae","#3a3ad6"]}, "legend": null},
      "strokeDash": {"field": "k", "type": "nominal", "scale": {"domain": ["a","m","s"], "range": [[1,0],[1,0],[6,3,1.5,3]]}, "legend": null}
     }},
    {"transform": [{"filter": "datum.t % 10 == 0 && datum.t <= 380"}, {"fold": ["a","m"], "as": ["k","v"]}],
     "mark": {"type": "point", "filled": true, "stroke": "#1a1a1a", "strokeWidth": 0.8, "opacity": 1},
     "encoding": {
      "x": {"field": "t", "type": "quantitative"},
      "y": {"field": "v", "type": "quantitative"},
      "fill": {"field": "k", "type": "nominal", "scale": {"domain": ["a","m"], "range": ["#8b0000","#00008b"]}, "legend": null},
      "shape": {"field": "k", "type": "nominal", "scale": {"domain": ["a","m"], "range": ["circle","diamond"]}, "legend": null},
      "size": {"field": "k", "type": "nominal", "scale": {"domain": ["a","m"], "range": [64,121]}, "legend": null}
     }}
   ]},
   {"layer": [
    {"mark": {"type": "line", "strokeWidth": 1.4},
     "encoding": {
      "x": {"field": "t", "type": "quantitative"},
      "y": {"field": "r", "type": "quantitative", "scale": {"domain": [0,6], "nice": false},
            "axis": {"orient": "right", "values": [0,1,2,3,4,5,6], "format": "d", "grid": false, "tickSize": -5, "labelPadding": 12, "labelOverlap": false, "tickCount": 20, "labelColor": "#1f9a1f", "title": "Ratio", "titleColor": "#1f9a1f", "titleFontSize": 13.5, "titlePadding": 5}},
      "color": {"datum": "Ratio", "type": "nominal", "scale": {"range": ["#1f8f1f"]}, "legend": null}
     }},
    {"transform": [{"filter": "datum.t % 10 == 0 && datum.t <= 380"}],
     "mark": {"type": "point", "shape": "square", "filled": true, "fill": "#0a7a0a", "stroke": "#1a1a1a", "strokeWidth": 0.8, "size": 72, "opacity": 1},
     "encoding": {
      "x": {"field": "t", "type": "quantitative"},
      "y": {"field": "r", "type": "quantitative"}
     }}
   ]}
  ],
  "resolve": {"scale": {"y": "independent", "color": "independent"}}
 },
 {
  "title": "Mid Capitalization ($1 Billion - $10 Billion)",
  "width": 1122, "height": 283.5,
  "transform": [{"filter": "datum.p == 3"}],
  "layer": [
   {"layer": [
    {"transform": [{"fold": ["a","m","s"], "as": ["k","v"]}],
     "mark": {"type": "line", "strokeWidth": 1.4},
     "encoding": {
      "x": {"field": "t", "type": "quantitative", "scale": {"domain": [0,390], "nice": false, "zero": false},
            "axis": {"values": [30,90,150,210,270,330], "labelExpr": "floor(datum.value/60)+10 + ':00:00'", "grid": true, "ticks": false, "labelPadding": 9, "labelOverlap": false, "tickCount": 20, "title": null}},
      "y": {"field": "v", "type": "quantitative", "scale": {"domain": [0,1.6], "nice": false},
            "axis": {"values": [0,0.2,0.4,0.6,0.8,1.0,1.2,1.4,1.6], "format": ".1f", "grid": true, "ticks": false, "labelPadding": 5, "labelOverlap": false, "tickCount": 20, "title": "Median Relative Spread (%)", "titlePadding": 9}},
      "color": {"field": "k", "type": "nominal", "scale": {"domain": ["a","m","s"], "range": ["#a01010","#1c1cae","#3a3ad6"]}, "legend": null},
      "strokeDash": {"field": "k", "type": "nominal", "scale": {"domain": ["a","m","s"], "range": [[1,0],[1,0],[6,3,1.5,3]]}, "legend": null}
     }},
    {"transform": [{"filter": "datum.t % 10 == 0 && datum.t <= 380"}, {"fold": ["a","m"], "as": ["k","v"]}],
     "mark": {"type": "point", "filled": true, "stroke": "#1a1a1a", "strokeWidth": 0.8, "opacity": 1},
     "encoding": {
      "x": {"field": "t", "type": "quantitative"},
      "y": {"field": "v", "type": "quantitative"},
      "fill": {"field": "k", "type": "nominal", "scale": {"domain": ["a","m"], "range": ["#8b0000","#00008b"]}, "legend": null},
      "shape": {"field": "k", "type": "nominal", "scale": {"domain": ["a","m"], "range": ["circle","diamond"]}, "legend": null},
      "size": {"field": "k", "type": "nominal", "scale": {"domain": ["a","m"], "range": [64,121]}, "legend": null}
     }}
   ]},
   {"layer": [
    {"mark": {"type": "line", "strokeWidth": 1.4},
     "encoding": {
      "x": {"field": "t", "type": "quantitative"},
      "y": {"field": "r", "type": "quantitative", "scale": {"domain": [0,6], "nice": false},
            "axis": {"orient": "right", "values": [0,1,2,3,4,5,6], "format": "d", "grid": false, "tickSize": -5, "labelPadding": 12, "labelOverlap": false, "tickCount": 20, "labelColor": "#1f9a1f", "title": "Ratio", "titleColor": "#1f9a1f", "titleFontSize": 13.5, "titlePadding": 5}},
      "color": {"datum": "Ratio", "type": "nominal", "scale": {"range": ["#1f8f1f"]}, "legend": null}
     }},
    {"transform": [{"filter": "datum.t % 10 == 0 && datum.t <= 380"}],
     "mark": {"type": "point", "shape": "square", "filled": true, "fill": "#0a7a0a", "stroke": "#1a1a1a", "strokeWidth": 0.8, "size": 72, "opacity": 1},
     "encoding": {
      "x": {"field": "t", "type": "quantitative"},
      "y": {"field": "r", "type": "quantitative"}
     }}
   ]}
  ],
  "resolve": {"scale": {"y": "independent", "color": "independent"}}
 },
 {
  "title": "Small Capitalization (< $1 Billion)",
  "width": 1122, "height": 283.5,
  "transform": [{"filter": "datum.p == 4"}],
  "layer": [
   {"layer": [
    {"transform": [{"fold": ["a","m","s"], "as": ["k","v"]}],
     "mark": {"type": "line", "strokeWidth": 1.4},
     "encoding": {
      "x": {"field": "t", "type": "quantitative", "scale": {"domain": [0,390], "nice": false, "zero": false},
            "axis": {"values": [30,90,150,210,270,330], "labelExpr": "floor(datum.value/60)+10 + ':00:00'", "grid": true, "ticks": false, "labelPadding": 9, "labelOverlap": false, "tickCount": 20, "title": "Time", "titleFontSize": 13.5, "titlePadding": 10}},
      "y": {"field": "v", "type": "quantitative", "scale": {"domain": [0,4], "nice": false},
            "axis": {"values": [0,0.5,1.0,1.5,2.0,2.5,3.0,3.5,4.0], "format": ".1f", "grid": true, "ticks": false, "labelPadding": 5, "labelOverlap": false, "tickCount": 20, "title": "Median Relative Spread (%)", "titlePadding": 9}},
      "color": {"field": "k", "type": "nominal", "scale": {"domain": ["a","m","s"], "range": ["#a01010","#1c1cae","#3a3ad6"]}, "legend": null},
      "strokeDash": {"field": "k", "type": "nominal", "scale": {"domain": ["a","m","s"], "range": [[1,0],[1,0],[6,3,1.5,3]]}, "legend": null}
     }},
    {"transform": [{"filter": "datum.t % 10 == 0 && datum.t <= 380"}, {"fold": ["a","m"], "as": ["k","v"]}],
     "mark": {"type": "point", "filled": true, "stroke": "#1a1a1a", "strokeWidth": 0.8, "opacity": 1},
     "encoding": {
      "x": {"field": "t", "type": "quantitative"},
      "y": {"field": "v", "type": "quantitative"},
      "fill": {"field": "k", "type": "nominal", "scale": {"domain": ["a","m"], "range": ["#8b0000","#00008b"]}, "legend": null},
      "shape": {"field": "k", "type": "nominal", "scale": {"domain": ["a","m"], "range": ["circle","diamond"]}, "legend": null},
      "size": {"field": "k", "type": "nominal", "scale": {"domain": ["a","m"], "range": [64,121]}, "legend": null}
     }}
   ]},
   {"layer": [
    {"mark": {"type": "line", "strokeWidth": 1.4},
     "encoding": {
      "x": {"field": "t", "type": "quantitative"},
      "y": {"field": "r", "type": "quantitative", "scale": {"domain": [0,6], "nice": false},
            "axis": {"orient": "right", "values": [0,1,2,3,4,5,6], "format": "d", "grid": false, "tickSize": -5, "labelPadding": 12, "labelOverlap": false, "tickCount": 20, "labelColor": "#1f9a1f", "title": "Ratio", "titleColor": "#1f9a1f", "titleFontSize": 13.5, "titlePadding": 5}},
      "color": {"datum": "Ratio", "type": "nominal", "scale": {"range": ["#1f8f1f"]}, "legend": null}
     }},
    {"transform": [{"filter": "datum.t % 10 == 0 && datum.t <= 380"}],
     "mark": {"type": "point", "shape": "square", "filled": true, "fill": "#0a7a0a", "stroke": "#1a1a1a", "strokeWidth": 0.8, "size": 72, "opacity": 1},
     "encoding": {
      "x": {"field": "t", "type": "quantitative"},
      "y": {"field": "r", "type": "quantitative"}
     }}
   ]}
  ],
  "resolve": {"scale": {"y": "independent", "color": "independent"}}
 }
]
}
